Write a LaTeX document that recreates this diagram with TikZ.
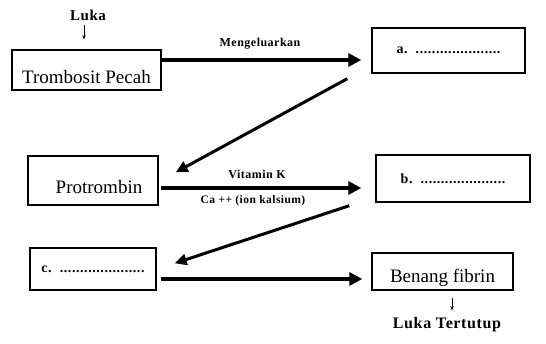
\documentclass[tikz,border=0pt]{standalone}
\usepackage{fontspec}
\setmainfont{Liberation Serif}
\newfontfamily\lblfont[LetterSpace=4]{Liberation Serif}
\usetikzlibrary{arrows.meta,calc}

\begin{document}
\begin{tikzpicture}[
  x=1pt, y=1pt,
  box/.style={draw, line width=1.4pt, inner sep=2pt, font=\fontsize{19}{21}\selectfont},
  fill box/.style={draw, line width=1.4pt, inner sep=2pt, font=\lblfont\bfseries\fontsize{14}{16}\selectfont},
  lbl/.style={font=\lblfont\bfseries\fontsize{12}{14}\selectfont},
  big/.style={-{Triangle[length=13pt,width=13pt]}, line width=4.5pt},
  diag/.style={-{Triangle[length=12pt,width=11pt]}, line width=3pt},
  thin/.style={-{Stealth[length=4pt,width=3.5pt]}, line width=0.8pt},
]
\useasboundingbox (0,0) rectangle (546,343);

\node[font=\lblfont\bfseries\fontsize{15}{17}\selectfont] (luka) at (88,328) {Luka};
\node[box, minimum width=149pt, minimum height=40pt, text height=27pt] (trombosit) at (86.5,273) {Trombosit Pecah};
\node[fill box, minimum width=153pt, minimum height=45pt] (a) at (448.5,292.5) {a.\ \ .....................};
\node[lbl] (keluar) at (260,299) {Mengeluarkan};

\node[box, minimum width=130pt, minimum height=49pt, text height=26pt] (prot) at (93,162.5) {\hspace{12pt}Protrombin};
\node[fill box, minimum width=154pt, minimum height=47pt] (b) at (453,164.5) {b.\ \ .....................};
\node[lbl] (vitk) at (257,169) {Vitamin K};
\node[lbl, font=\lblfont\bfseries\fontsize{11.5}{13}\selectfont] (ca) at (253,142) {Ca ++ (ion kalsium)};

\node[fill box, minimum width=126pt, minimum height=42pt] (c) at (93,74) {c.\ \ .....................};
\node[box, minimum width=141pt, minimum height=37pt, text height=27pt] (fibrin) at (442.5,71.5) {Benang fibrin};
\node[font=\lblfont\bfseries\fontsize{16}{18}\selectfont] (tutup) at (447,18) {Luka Tertutup};

\draw[thin] ($(luka.south)+(-4,-1)$) -- ($(trombosit.north)+(-2.5,10)$);
\draw[big] ($(trombosit.east)+(0,10)$) -- ($(a.west)+(-10,-9.5)$);
\draw[diag] ($(a.south west)+(-24,-5)$) -- ($(prot.north east)+(17,-17)$);
\draw[big] ($(prot.east)+(2,-7.5)$) -- ($(b.west)+(-14,-9.5)$);
\draw[diag] ($(b.south west)+(-26,-3)$) -- ($(c.north east)+(18,-16)$);
\draw[big] ($(c.east)+(4,-10)$) -- ($(fibrin.west)+(-9,-7.5)$);
\draw[thin] ($(fibrin.south)+(9.5,-7)$) -- ($(tutup.north)+(5,4)$);
\end{tikzpicture}
\end{document}
